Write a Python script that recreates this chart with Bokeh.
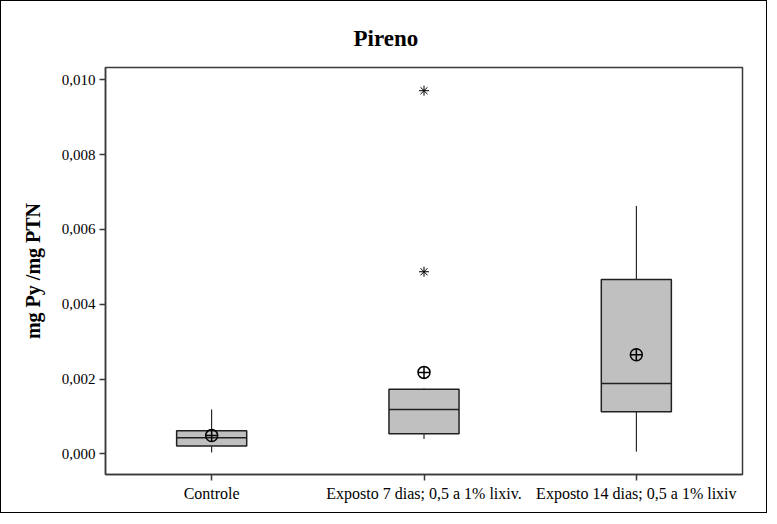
from bokeh.plotting import figure
from bokeh.models import FixedTicker, CustomJSTickFormatter, Range1d
from bokeh.embed import file_html
from bokeh.resources import INLINE

categories = ["Controle", "Exposto 7 dias; 0,5 a 1% lixiv.", "Exposto 14 dias; 0,5 a 1% lixiv"]
positions = [1, 2, 3]
whisker_low = [0.00004, 0.00040, 0.00006]
q1 = [0.00021, 0.00054, 0.00113]
median = [0.00043, 0.00119, 0.00188]
q3 = [0.00062, 0.00173, 0.00466]
whisker_high = [0.00119, 0.00175, 0.00663]
means = [0.00049, 0.00218, 0.00265]
outlier_pos = [2, 2]
outlier_vals = [0.00487, 0.00971]
y_ticks = [0.000, 0.002, 0.004, 0.006, 0.008, 0.010]

FONT = "Liberation Serif"
FRAME = "#3a3a3a"

p = figure(width=767, height=513, output_backend="svg", toolbar_location=None,
           x_range=Range1d(0.5, 3.5), y_range=Range1d(-0.00055, 0.01033),
           min_border_left=104, min_border_top=66, min_border_right=26, min_border_bottom=40,
           title="Pireno")
p.styles = {"border": "1px solid black"}
p.grid.visible = False
p.outline_line_color = FRAME
p.outline_line_width = 1.5
p.background_fill_color = "white"
p.border_fill_color = "white"

p.title.text_font = FONT
p.title.text_font_size = "23px"
p.title.text_font_style = "bold"
p.title.text_color = "black"
p.title.align = "left"
p.title.offset = 248
p.title.standoff = 34

# boxes
box_w = 0.33
half = box_w / 2
p.segment(x0=positions, y0=q3, x1=positions, y1=whisker_high, line_color="black", line_width=1)
p.segment(x0=positions, y0=whisker_low, x1=positions, y1=q1, line_color="black", line_width=1)
p.vbar(x=positions, width=box_w, bottom=q1, top=q3, fill_color="#c0c0c0",
       line_color="#202020", line_width=1.5)
p.segment(x0=[x - half for x in positions], y0=median, x1=[x + half for x in positions], y1=median,
          line_color="#202020", line_width=1.5)
p.scatter(x=positions, y=means, marker="circle_cross", size=12, fill_color=None,
          line_color="black", line_width=1.5)
p.scatter(x=outlier_pos, y=outlier_vals, marker="asterisk", size=10,
          line_color="black", line_width=1)

# axes
p.xaxis.ticker = FixedTicker(ticks=positions)
p.xaxis.major_label_overrides = {pos: c for pos, c in zip(positions, categories)}
p.yaxis.ticker = FixedTicker(ticks=y_ticks)
p.yaxis.formatter = CustomJSTickFormatter(code="return tick.toFixed(3).replace('.', ',');")
p.yaxis.axis_label = "mg Py /mg PTN"
p.yaxis.axis_label_text_font = FONT
p.yaxis.axis_label_text_font_style = "bold"
p.yaxis.axis_label_text_font_size = "20px"
p.yaxis.axis_label_text_color = "black"
p.yaxis.axis_label_standoff = 15
for ax in (p.xaxis, p.yaxis):
    ax.axis_line_color = FRAME
    ax.axis_line_width = 1.5
    ax.major_tick_line_color = FRAME
    ax.major_tick_line_width = 1.5
    ax.major_tick_out = 6
    ax.major_tick_in = 0
    ax.minor_tick_line_color = None
    ax.major_label_text_font = FONT
    ax.major_label_text_color = "black"
    ax.major_label_standoff = 4
p.yaxis.major_label_text_font_size = "15px"
p.xaxis.major_label_text_font_size = "16px"

open("out.html", "w").write(file_html(p, INLINE))
